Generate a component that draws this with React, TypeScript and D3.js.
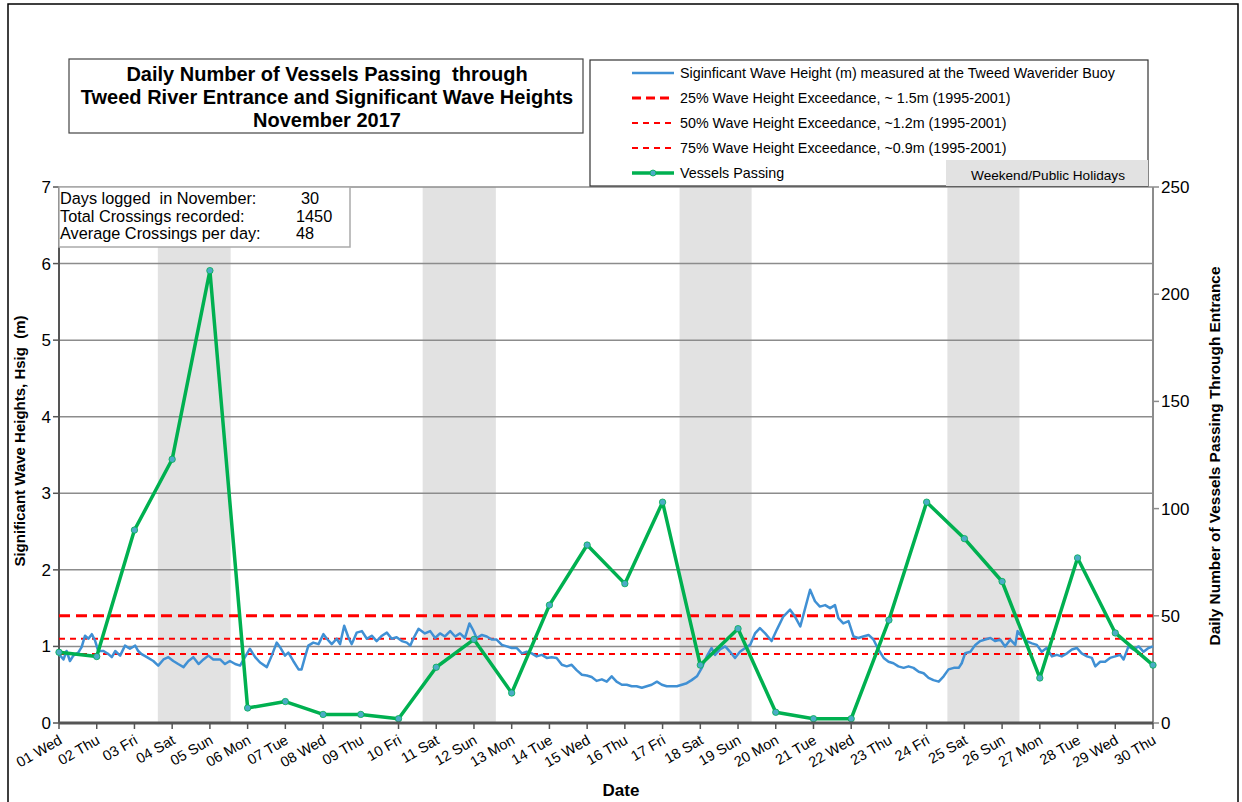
import * as d3 from "d3";

// day labels along the bottom
const dayLabels = [
  "01 Wed", "02 Thu", "03 Fri", "04 Sat", "05 Sun", "06 Mon", "07 Tue", "08 Wed", "09 Thu", "10 Fri",
  "11 Sat", "12 Sun", "13 Mon", "14 Tue", "15 Wed", "16 Thu", "17 Fri", "18 Sat", "19 Sun", "20 Mon",
  "21 Tue", "22 Wed", "23 Thu", "24 Fri", "25 Sat", "26 Sun", "27 Mon", "28 Tue", "29 Wed", "30 Thu",
];

// vessels passing per day (right axis)
const vessels = [
  33, 31, 90, 123, 211, 7, 10, 4, 4, 2,
  26, 39, 14, 55, 83, 65, 103, 27, 44, 5,
  2, 2, 48, 103, 86, 66, 21, 77, 42, 27,
];

// significant wave height, [days since 01 00:00, Hsig m]
const waveHeight: [number, number][] = [
  [0, 0.9], [0.12, 0.83], [0.2, 0.94], [0.29, 0.81], [0.38, 0.88], [0.51, 0.92], [0.6, 0.99], [0.69, 1.14],
  [0.78, 1.1], [0.87, 1.16], [0.96, 1.07], [1.04, 0.94], [1.18, 0.94], [1.31, 0.9], [1.4, 0.86], [1.49, 0.94],
  [1.62, 0.88], [1.75, 1.01], [1.88, 0.97], [2.02, 1.01], [2.1, 0.94], [2.19, 0.9], [2.33, 0.86], [2.5, 0.81],
  [2.63, 0.75], [2.77, 0.83], [2.9, 0.86], [3.03, 0.81], [3.16, 0.77], [3.3, 0.73], [3.43, 0.81], [3.56, 0.86],
  [3.7, 0.77], [3.83, 0.83], [3.96, 0.88], [4.09, 0.83], [4.27, 0.83], [4.4, 0.77], [4.53, 0.81], [4.67, 0.77],
  [4.8, 0.75], [4.93, 0.86], [5.06, 0.97], [5.2, 0.86], [5.33, 0.79], [5.51, 0.73], [5.64, 0.88], [5.77, 1.05],
  [5.86, 0.99], [5.99, 0.88], [6.08, 0.92], [6.21, 0.81], [6.35, 0.7], [6.43, 0.7], [6.52, 0.86], [6.61, 1.01],
  [6.74, 1.05], [6.88, 1.03], [7.01, 1.16], [7.1, 1.1], [7.23, 1.03], [7.36, 1.1], [7.45, 1.03], [7.56, 1.27],
  [7.67, 1.12], [7.76, 1.03], [7.89, 1.18], [8.03, 1.2], [8.16, 1.1], [8.29, 1.14], [8.42, 1.07], [8.56, 1.14],
  [8.69, 1.18], [8.82, 1.1], [8.95, 1.12], [9.09, 1.07], [9.22, 1.05], [9.31, 1.01], [9.39, 1.1], [9.53, 1.23],
  [9.7, 1.17], [9.84, 1.2], [9.97, 1.11], [10.1, 1.17], [10.23, 1.13], [10.37, 1.2], [10.5, 1.13], [10.63, 1.17],
  [10.76, 1.11], [10.88, 1.3], [10.97, 1.22], [11.07, 1.11], [11.21, 1.15], [11.34, 1.13], [11.47, 1.09], [11.6, 1.09],
  [11.74, 1.02], [11.87, 1.0], [12.0, 0.98], [12.13, 0.98], [12.27, 0.91], [12.4, 0.93], [12.53, 0.91], [12.66, 0.87],
  [12.8, 0.89], [12.93, 0.85], [13.06, 0.86], [13.19, 0.85], [13.33, 0.76], [13.46, 0.74], [13.59, 0.76], [13.72, 0.69],
  [13.86, 0.63], [13.99, 0.62], [14.12, 0.6], [14.25, 0.55], [14.39, 0.57], [14.52, 0.54], [14.65, 0.61], [14.78, 0.54],
  [14.92, 0.5], [15.05, 0.5], [15.18, 0.48], [15.31, 0.48], [15.45, 0.46], [15.58, 0.48], [15.71, 0.5], [15.85, 0.54],
  [15.98, 0.5], [16.11, 0.48], [16.24, 0.48], [16.38, 0.48], [16.51, 0.5], [16.64, 0.52], [16.77, 0.56], [16.91, 0.61],
  [17.04, 0.72], [17.17, 0.87], [17.3, 0.98], [17.39, 0.89], [17.52, 0.96], [17.66, 1.0], [17.79, 0.93], [17.92, 0.85],
  [18.05, 0.93], [18.19, 0.98], [18.32, 1.02], [18.45, 1.17], [18.58, 1.24], [18.72, 1.17], [18.89, 1.07], [19.03, 1.22],
  [19.2, 1.39], [19.38, 1.48], [19.51, 1.39], [19.65, 1.26], [19.78, 1.5], [19.91, 1.74], [20.04, 1.59], [20.17, 1.52],
  [20.31, 1.54], [20.44, 1.5], [20.57, 1.54], [20.66, 1.37], [20.79, 1.3], [20.93, 1.33], [21.06, 1.13], [21.19, 1.11],
  [21.32, 1.13], [21.46, 1.15], [21.59, 1.09], [21.72, 0.96], [21.86, 0.85], [21.99, 0.8], [22.12, 0.78], [22.25, 0.74],
  [22.39, 0.72], [22.52, 0.74], [22.65, 0.72], [22.79, 0.67], [22.92, 0.65], [23.05, 0.59], [23.18, 0.56], [23.32, 0.54],
  [23.45, 0.61], [23.58, 0.7], [23.72, 0.72], [23.85, 0.72], [23.93, 0.78], [24.02, 0.91], [24.16, 0.93], [24.29, 1.02],
  [24.42, 1.07], [24.55, 1.09], [24.69, 1.11], [24.82, 1.07], [24.95, 1.09], [25.08, 1.0], [25.22, 1.09], [25.35, 1.02],
  [25.41, 1.2], [25.52, 1.13], [25.65, 1.07], [25.79, 1.04], [25.92, 1.02], [26.05, 0.93], [26.18, 0.98], [26.32, 0.87],
  [26.45, 0.89], [26.58, 0.87], [26.72, 0.91], [26.85, 0.96], [26.98, 0.98], [27.11, 0.91], [27.25, 0.87], [27.38, 0.85],
  [27.47, 0.74], [27.6, 0.8], [27.73, 0.8], [27.86, 0.85], [28.0, 0.87], [28.13, 0.89], [28.22, 0.83], [28.35, 1.0],
  [28.48, 0.96], [28.62, 1.0], [28.75, 0.93], [28.88, 0.98], [29.0, 1.0],
];

// weekend / public holiday shading, [from, to] in days since 01 00:00
const weekendBands: [number, number][] = [
  [2.62, 4.55], [9.64, 11.58], [16.45, 18.36], [23.55, 25.46],
];

const exceedValues = [1.4, 1.1, 0.9];
const leftTicks = [0, 1, 2, 3, 4, 5, 6, 7];
const rightTicks = [0, 50, 100, 150, 200, 250];

const titleLines = [
  "Daily Number of Vessels Passing  through",
  "Tweed River Entrance and Significant Wave Heights",
  "November 2017",
];

const legendLabels = [
  "Siginficant Wave Height (m) measured at the Tweed Waverider Buoy",
  "25% Wave Height Exceedance, ~ 1.5m (1995-2001)",
  "50% Wave Height Exceedance, ~1.2m (1995-2001)",
  "75% Wave Height Exceedance, ~0.9m (1995-2001)",
  "Vessels Passing",
];

const infoLabels = ["Days logged  in November:", "Total Crossings recorded:", "Average Crossings per day:"];
const infoValues = ["30", "1450", "48"];

const FONT = "'Liberation Sans', Arial, sans-serif";
const BLUE = "#4090d4";
const GREEN = "#00b050";
const RED = "#ff0000";

export default function App() {
  const width = 1242;
  const height = 802;
  const left = 59, right = 1153, top = 187, bottom = 723;

  const x = d3.scaleLinear().domain([0, 29]).range([left, right]);
  const yL = d3.scaleLinear().domain([0, 7]).range([bottom, top]);
  const yR = d3.scaleLinear().domain([0, 250]).range([bottom, top]);

  const waveLine = d3.line<[number, number]>().x(d => x(d[0])).y(d => yL(d[1]));
  const vesselLine = d3.line<number>().x((d, i) => x(i)).y(d => yR(d));

  const legendY = (i: number) => 73 + i * 25;

  return (
    <svg width={width} height={height} style={{ position: "absolute", left: 0, top: 0, background: "#fff" }} fontFamily={FONT}>
      <rect x={8} y={4} width={1230} height={806} fill="white" stroke="#000" strokeWidth={1.5} />

      {/* shaded weekends */}
      {weekendBands.map((b, i) => (
        <rect key={i} x={x(b[0])} y={top} width={x(b[1]) - x(b[0])} height={bottom - top} fill="#e2e2e2" />
      ))}

      {/* gridlines */}
      {leftTicks.slice(1).map(t => (
        <line key={t} x1={left} x2={right} y1={yL(t)} y2={yL(t)} stroke="#8c8c8c" strokeWidth={1.5} />
      ))}

      {/* axes */}
      <line x1={left} x2={left} y1={top} y2={bottom} stroke="#555" strokeWidth={2} />
      <line x1={right} x2={right} y1={top} y2={bottom} stroke="#8c8c8c" strokeWidth={2} />
      {leftTicks.map(t => (
        <g key={t}>
          <line x1={left - 6} x2={left} y1={yL(t)} y2={yL(t)} stroke="#555" strokeWidth={1.5} />
          <text x={51} y={yL(t)} dy="0.35em" textAnchor="end" fontSize={17}>{t}</text>
        </g>
      ))}
      {rightTicks.map(t => (
        <g key={t}>
          <line x1={right} x2={right + 6} y1={yR(t)} y2={yR(t)} stroke="#8c8c8c" strokeWidth={1.5} />
          <text x={1161} y={yR(t)} dy="0.35em" fontSize={17}>{t}</text>
        </g>
      ))}

      {/* exceedance lines */}
      {exceedValues.map((v, i) => (
        <line key={v} x1={left} x2={right} y1={yL(v)} y2={yL(v)} stroke={RED}
          strokeWidth={i === 0 ? 3 : 2} strokeDasharray={i === 0 ? "11,6" : "6,5"} />
      ))}

      <path d={waveLine(waveHeight) ?? ""} fill="none" stroke={BLUE} strokeWidth={2.5} strokeLinejoin="round" />
      <path d={vesselLine(vessels) ?? ""} fill="none" stroke={GREEN} strokeWidth={3.5} strokeLinejoin="round" />
      {vessels.map((v, i) => (
        <circle key={i} cx={x(i)} cy={yR(v)} r={3.2} fill="#4bacc6" stroke={GREEN} strokeWidth={0.8} />
      ))}

      <line x1={left} x2={right} y1={bottom} y2={bottom} stroke="#555" strokeWidth={3} />
      {dayLabels.map((d, i) => (
        <g key={d}>
          <line x1={x(i)} x2={x(i)} y1={bottom} y2={bottom + 6} stroke="#555" strokeWidth={1.5} />
          <text transform={`translate(${x(i) + 4},${bottom + 20}) rotate(-30)`} textAnchor="end" fontSize={14.5}>{d}</text>
        </g>
      ))}

      {/* axis titles */}
      <text x={621} y={796} textAnchor="middle" fontSize={17} fontWeight="bold">Date</text>
      <text transform="translate(25,441) rotate(-90)" textAnchor="middle" fontSize={15} fontWeight="bold" style={{ whiteSpace: "pre" }}>
        Significant Wave Heights, Hsig  (m)
      </text>
      <text transform="translate(1220,456) rotate(-90)" textAnchor="middle" fontSize={15.4} fontWeight="bold">
        Daily Number of Vessels Passing Through Entrance
      </text>

      {/* info box */}
      <rect x={59} y={187} width={291} height={60} fill="white" stroke="#aaa" strokeWidth={1.5} />
      {infoLabels.map((l, i) => (
        <g key={l}>
          <text x={60} y={204 + i * 17.5} fontSize={16.3} style={{ whiteSpace: "pre" }}>{l}</text>
          <text x={i === 0 ? 301 : 296} y={204 + i * 17.5} fontSize={16.3}>{infoValues[i]}</text>
        </g>
      ))}

      {/* title box */}
      <rect x={69} y={59} width={514} height={74} fill="white" stroke="#444" strokeWidth={1.2} />
      {titleLines.map((t, i) => (
        <text key={i} x={327} y={81 + i * 23} textAnchor="middle" fontSize={20} fontWeight="bold" style={{ whiteSpace: "pre" }}>{t}</text>
      ))}

      {/* legend */}
      <rect x={590} y={60} width={558} height={126} fill="white" stroke="#333" strokeWidth={1.2} />
      <rect x={946} y={160} width={202} height={26} fill="#e2e2e2" />
      <text x={1048} y={175} dy="0.35em" textAnchor="middle" fontSize={13.6}>Weekend/Public Holidays</text>
      {legendLabels.map((l, i) => {
        const yy = legendY(i);
        return (
          <g key={l}>
            {i === 0 && <line x1={632} x2={674} y1={yy} y2={yy} stroke={BLUE} strokeWidth={2.5} />}
            {i === 1 && <line x1={632} x2={674} y1={yy} y2={yy} stroke={RED} strokeWidth={3} strokeDasharray="9,5" />}
            {(i === 2 || i === 3) && <line x1={632} x2={674} y1={yy} y2={yy} stroke={RED} strokeWidth={2} strokeDasharray="6,5" />}
            {i === 4 && (
              <g>
                <line x1={632} x2={674} y1={yy} y2={yy} stroke={GREEN} strokeWidth={3.5} />
                <circle cx={653} cy={yy} r={3} fill="#4bacc6" stroke={GREEN} strokeWidth={0.8} />
              </g>
            )}
            <text x={680} y={yy} dy="0.35em" fontSize={14.3}>{l}</text>
          </g>
        );
      })}
    </svg>
  );
}
